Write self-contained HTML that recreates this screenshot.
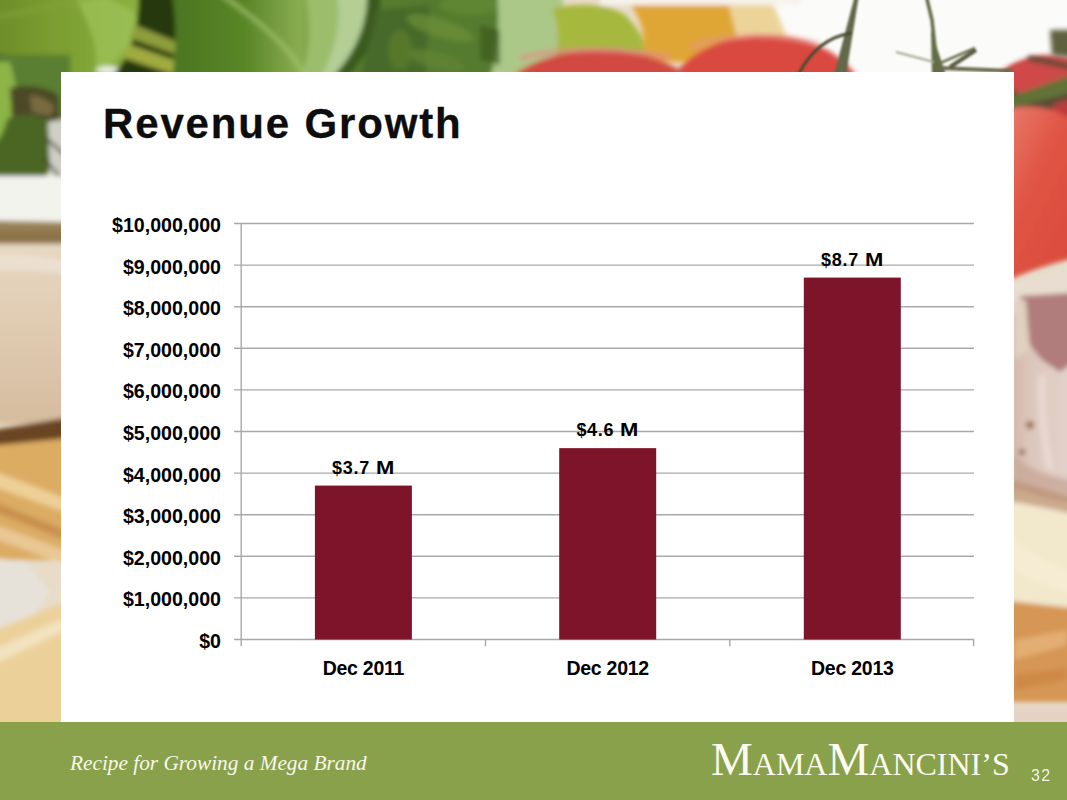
<!DOCTYPE html>
<html><head><meta charset="utf-8">
<style>
html,body{margin:0;padding:0;}
body{width:1067px;height:800px;overflow:hidden;position:relative;background:#f4f0ea;font-family:"Liberation Sans",sans-serif;}
.bg{position:absolute;left:0;top:0;width:1067px;height:800px;overflow:hidden;}
.panel{position:absolute;left:61px;top:72px;width:953px;height:650px;background:#fff;}
.footer{position:absolute;left:0;top:722px;width:1067px;height:78px;background:#8aa14b;}
.title{position:absolute;left:103px;top:99px;font-weight:bold;font-size:42px;letter-spacing:1.85px;-webkit-text-stroke:0.3px #0d0d0d;color:#0d0d0d;white-space:nowrap;line-height:50px;}
.ylab{position:absolute;right:846px;font-weight:bold;font-size:19.6px;color:#000;white-space:nowrap;line-height:20px;}
.dlab{position:absolute;font-weight:bold;font-size:18px;letter-spacing:0.7px;color:#000;white-space:nowrap;line-height:20px;text-align:center;width:120px;}
.dlab .m{display:inline-block;transform:scaleX(1.22);transform-origin:0 0;margin-right:3.3px;}
.xlab{position:absolute;font-weight:bold;font-size:19.5px;letter-spacing:-0.25px;color:#000;white-space:nowrap;line-height:20px;text-align:center;width:140px;}
.tag{position:absolute;left:70px;top:748px;font-family:"Liberation Serif",serif;font-style:italic;font-size:21.3px;color:#f7f7ec;white-space:nowrap;line-height:30px;}
.logo{position:absolute;left:711px;top:735px;font-family:"Liberation Serif",serif;color:#fbfbf0;white-space:nowrap;line-height:48px;}
.logo .b{font-size:47px;}
.logo .s{font-size:32px;}
.pn{position:absolute;left:1031px;top:766px;font-size:16px;letter-spacing:1.3px;color:#f4f4ea;line-height:20px;}
</style></head>
<body>
<div class="bg"><svg width="1067" height="800" viewBox="0 0 1067 800">
<defs>
<filter id="bl" x="-20%" y="-20%" width="140%" height="140%"><feGaussianBlur stdDeviation="5"/></filter>
<filter id="bm" x="-20%" y="-20%" width="140%" height="140%"><feGaussianBlur stdDeviation="2.5"/></filter>
<filter id="bs" x="-20%" y="-20%" width="140%" height="140%"><feGaussianBlur stdDeviation="1.2"/></filter>
<linearGradient id="leaf2" x1="0" y1="0" x2="1" y2="0"><stop offset="0" stop-color="#4a7420"/><stop offset="0.45" stop-color="#5a8628"/><stop offset="0.75" stop-color="#88ac50"/><stop offset="1" stop-color="#6e9838"/></linearGradient>
<linearGradient id="chz" x1="0" y1="0" x2="0" y2="1"><stop offset="0" stop-color="#e6d8c2"/><stop offset="0.5" stop-color="#dfcab0"/><stop offset="1" stop-color="#d6bc9e"/></linearGradient>
<linearGradient id="tom" x1="0" y1="0" x2="1" y2="1"><stop offset="0" stop-color="#e88070"/><stop offset="0.4" stop-color="#e05444"/><stop offset="1" stop-color="#d84838"/></linearGradient>
<linearGradient id="gar" x1="0" y1="0" x2="1" y2="0"><stop offset="0" stop-color="#d0ae9c"/><stop offset="0.3" stop-color="#dcc6bc"/><stop offset="1" stop-color="#e8dcd6"/></linearGradient>
<linearGradient id="brn" x1="0" y1="0" x2="0" y2="1"><stop offset="0" stop-color="#a08c60"/><stop offset="0.6" stop-color="#8a7046"/><stop offset="1" stop-color="#9a8058"/></linearGradient>
<linearGradient id="lf1" x1="0" y1="0" x2="1" y2="0"><stop offset="0" stop-color="#668624"/><stop offset="0.45" stop-color="#7a9c30"/><stop offset="1" stop-color="#8eb242"/></linearGradient>
</defs>
<rect x="0" y="0" width="1067" height="800" fill="#e8dcc8"/>
<g filter="url(#bl)">
<rect x="-30" y="-30" width="560" height="140" fill="#557a2c"/>
<rect x="760" y="-30" width="340" height="120" fill="#fbfbf9"/>
</g>
<g filter="url(#bm)">
<!-- leaf 1 -->
<path d="M-30,-30 L148,-30 C150,20 138,52 112,80 L-30,80 Z" fill="url(#lf1)"/>
<path d="M70,-10 C110,-5 140,10 140,25 C130,50 112,66 95,75 C100,50 90,20 70,-10Z" fill="#9cc056" opacity="0.8"/><ellipse cx="108" cy="70" rx="12" ry="4" fill="#e8eee0"/><path d="M-30,20 C20,15 60,5 100,-5" stroke="#86a43c" stroke-width="5" fill="none" opacity="0.6"/>
<path d="M-30,40 C-10,50 20,60 40,80 L-30,80Z" fill="#5a7a22"/>
<!-- gap dark with stems -->
<path d="M138,-30 L180,-30 L172,80 L108,80 C130,60 142,30 138,-30Z" fill="#26380e"/>
<path d="M135,25 L182,44 L180,56 L130,38 Z" fill="#8e9e3a"/>
<path d="M128,44 L180,62 L178,76 L124,58 Z" fill="#a0aa40"/>
<!-- leaf 2 -->
<path d="M168,-30 L335,-30 C348,20 340,60 325,80 L172,80 C178,40 176,10 168,-30Z" fill="url(#leaf2)"/>
<path d="M215,-10 C250,15 285,40 305,75" stroke="#a8c870" stroke-width="4" fill="none" opacity="0.7"/>
<!-- leaf 3 -->
<path d="M300,-30 L360,-30 C372,20 368,50 355,80 L300,80 C315,40 310,10 300,-30Z" fill="#9cbe6c"/>
<path d="M330,-30 L368,-30 C372,20 360,50 340,80 L320,80 C340,40 345,10 330,-30Z" fill="#b4ce96"/>
<path d="M366,-30 L385,-30 C388,20 370,55 345,80 L330,80 C358,50 372,20 366,-30Z" fill="#3a5a1a"/>
<path d="M380,-30 L505,-30 L505,80 L345,80 C370,55 385,20 380,-30Z" fill="#557c2e"/><path d="M375,10 L430,5 L425,80 L360,80Z" fill="#44662a" opacity="0.8"/>
<ellipse cx="440" cy="28" rx="35" ry="9" transform="rotate(18 440 28)" fill="#6e9038" opacity="0.7"/>
<ellipse cx="435" cy="60" rx="30" ry="8" transform="rotate(15 435 60)" fill="#628432" opacity="0.7"/>
<ellipse cx="470" cy="5" rx="30" ry="10" fill="#628a32" opacity="0.7"/>
<ellipse cx="400" cy="50" rx="12" ry="20" fill="#5a7e2c" opacity="0.7"/>
<!-- pale leaf -->
<path d="M495,-30 L560,-30 C568,30 560,55 545,80 L490,80 C500,40 500,10 495,-30Z" fill="#acc888"/>
<path d="M480,25 L500,30 L500,65 L480,60Z" fill="#3a5a20" opacity="0.7"/>
<!-- yellow-green -->
<path d="M552,8 C580,2 610,4 625,15 C640,30 650,45 640,62 L555,62 C560,40 558,20 552,8Z" fill="#a6b83e"/>
<!-- oil -->
<path d="M630,4 L742,4 L748,62 L640,62 C648,40 642,20 630,4Z" fill="#e0a636"/>
<path d="M728,2 L772,2 L792,48 L742,58 Z" fill="#ecd499"/>
<path d="M600,-30 L800,-30 L800,5 L600,5 Z" fill="#f6f3ec"/>
<!-- tomatoes -->
<ellipse cx="600" cy="112" rx="108" ry="62" fill="#d24842"/>
<path d="M520,58 C560,48 620,46 670,58" stroke="#e38a88" stroke-width="5" fill="none" opacity="0.7"/>
<ellipse cx="765" cy="104" rx="100" ry="69" fill="#d94a40"/>
<path d="M690,48 C730,32 780,33 820,45" stroke="#e7908a" stroke-width="5" fill="none" opacity="0.6"/>
<ellipse cx="1050" cy="100" rx="60" ry="45" fill="#c94c46"/>
</g>
<g filter="url(#bm)">
<!-- left strip -->
<rect x="-30" y="55" width="100" height="70" fill="#5a7e30"/>
<path d="M-30,62 L10,62 C22,100 20,140 8,172 L-30,172 Z" fill="#8cb446"/>
<path d="M10,88 C25,84 45,86 58,95 L60,120 C45,122 25,120 12,116Z" fill="#4c4a26"/>
<path d="M30,95 C40,96 50,100 55,108 L50,116 L32,112Z" fill="#7a6a40"/>
<path d="M8,118 C25,112 45,115 52,125 C56,150 50,175 42,183 C25,190 5,188 -30,178 L-30,150 C2,150 3,130 8,118Z" fill="#4b6620"/>
<path d="M48,122 L70,118 L70,178 L50,176Z" fill="#cfcfc8"/>
<path d="M46,138 L66,156" stroke="#383828" stroke-width="2.5"/>
<path d="M44,158 L64,182" stroke="#383828" stroke-width="2.5"/>
<rect x="-30" y="176" width="100" height="48" fill="#f3f3ee"/>
<path d="M-30,220 L70,222 L70,248 L-30,248Z" fill="url(#brn)"/>
<rect x="-30" y="244" width="100" height="180" fill="url(#chz)"/><path d="M-30,260 C0,250 40,255 70,262 L70,275 C40,270 0,268 -30,272Z" fill="#efe6dc" opacity="0.6"/>
<path d="M-30,434 L70,417 L70,440 L-30,450 Z" fill="#6a4422"/>
<path d="M-30,448 L70,438 L70,560 L-30,560Z" fill="#dcac64"/>
<path d="M-30,462 L70,500 L70,514 L-30,478Z" fill="#f0d49c" opacity="0.9"/>
<path d="M-30,492 L70,532 L70,542 L-30,502Z" fill="#c08444" opacity="0.7"/><path d="M-30,515 L70,552 L70,566 L-30,530Z" fill="#ecd0a0" opacity="0.8"/>
<path d="M-30,555 L25,562 L50,592 L25,628 L-30,640 Z" fill="#e6e2da"/>
<path d="M-30,640 L70,600 L70,735 L-30,735 Z" fill="#ecd09a"/>
<path d="M-30,660 L70,615 L70,628 L-30,676Z" fill="#f4e6c8" opacity="0.8"/>
<!-- right strip -->
<rect x="1000" y="85" width="100" height="30" fill="#5a4a38"/>
<ellipse cx="1045" cy="78" rx="45" ry="18" fill="#cf4a48"/>
<path d="M1005,98 C1030,90 1050,82 1075,74 L1075,92 C1050,98 1030,104 1005,108Z" fill="#627238"/>
<ellipse cx="1070" cy="112" rx="20" ry="12" fill="#b83c3c"/>
<path d="M1028,58 L1075,68" stroke="#4e4a34" stroke-width="5"/>
<path d="M1050,30 L1075,30 L1075,58 L1052,55Z" fill="#5e6040"/>
<path d="M1000,112 C1030,100 1060,108 1090,130 L1090,255 C1060,260 1030,270 1000,284 Z" fill="url(#tom)"/>
<path d="M1000,288 L1090,258 L1090,320 L1000,320 Z" fill="#e8ddd0"/>
<rect x="1000" y="315" width="100" height="175" fill="url(#gar)"/>
<path d="M1020,296 L1090,292 L1090,350 L1060,372 L1042,360 L1030,345 Z" fill="#b07c7c"/>
<path d="M1014,300 L1026,300 L1030,350 L1014,360Z" fill="#e0d0c0"/>
<ellipse cx="1030" cy="425" rx="4" ry="4" fill="#9a6a50"/><path d="M1042,375 C1040,410 1044,440 1050,470" stroke="#efe6e0" stroke-width="8" opacity="0.5" fill="none"/>
<ellipse cx="1022" cy="452" rx="3" ry="3" fill="#8a5a40"/><path d="M1014,455 C1030,470 1050,478 1090,482 L1090,505 C1050,500 1030,495 1014,485Z" fill="#c8a898" opacity="0.8"/>
<path d="M1000,478 C1030,485 1060,492 1090,505 L1090,520 C1060,510 1030,505 1000,500Z" fill="#b88866" opacity="0.6"/>
<path d="M1000,500 C1030,505 1060,510 1090,520 L1090,612 L1000,612Z" fill="#f2e8cc"/>
<path d="M1014,540 C1040,560 1060,570 1090,575 L1090,600 C1060,590 1030,580 1014,570Z" fill="#f6ecd4" opacity="0.8"/>
<path d="M1000,600 L1090,610 L1090,702 L1000,702Z" fill="#d69654"/>
<path d="M1014,640 L1067,630 L1067,645 L1014,660Z" fill="#e6b47a" opacity="0.8"/><path d="M1014,675 L1067,668 L1067,680 L1014,690Z" fill="#c88040" opacity="0.6"/>
<rect x="1000" y="708" width="100" height="30" fill="#e6d2c4"/>
</g>
<g filter="url(#bs)">
<path d="M855,-5 L859,-5 L846,75 L834,75Z" fill="#62684a"/>
<path d="M798,75 C812,48 830,36 852,33" stroke="#4a4a30" stroke-width="3" fill="none"/>
<path d="M926,-5 L932,20 L938,75" stroke="#626c44" stroke-width="3.5" fill="none"/>
<path d="M931,30 L946,75 L932,75Z" fill="#626c44"/>
<path d="M896,52 L934,62" stroke="#a0a890" stroke-width="2" fill="none"/>
<path d="M938,64 L975,48" stroke="#6a7050" stroke-width="2.5" fill="none"/>
<path d="M940,68 L1012,71" stroke="#6a6a50" stroke-width="4" fill="none"/><path d="M950,67 L976,50" stroke="#5a5a40" stroke-width="4" fill="none"/>

</g>
</svg></div>
<div class="panel"></div>
<div class="title">Revenue Growth</div>

<!--CHART-->
<svg class="chart" width="1067" height="800" viewBox="0 0 1067 800" style="position:absolute;left:0;top:0">
<line x1="234" y1="639.50" x2="974" y2="639.50" stroke="#a9a9a9" stroke-width="1.4"/>
<line x1="234" y1="597.90" x2="974" y2="597.90" stroke="#a9a9a9" stroke-width="1.4"/>
<line x1="234" y1="556.30" x2="974" y2="556.30" stroke="#a9a9a9" stroke-width="1.4"/>
<line x1="234" y1="514.70" x2="974" y2="514.70" stroke="#a9a9a9" stroke-width="1.4"/>
<line x1="234" y1="473.10" x2="974" y2="473.10" stroke="#a9a9a9" stroke-width="1.4"/>
<line x1="234" y1="431.50" x2="974" y2="431.50" stroke="#a9a9a9" stroke-width="1.4"/>
<line x1="234" y1="389.90" x2="974" y2="389.90" stroke="#a9a9a9" stroke-width="1.4"/>
<line x1="234" y1="348.30" x2="974" y2="348.30" stroke="#a9a9a9" stroke-width="1.4"/>
<line x1="234" y1="306.70" x2="974" y2="306.70" stroke="#a9a9a9" stroke-width="1.4"/>
<line x1="234" y1="265.10" x2="974" y2="265.10" stroke="#a9a9a9" stroke-width="1.4"/>
<line x1="234" y1="223.50" x2="974" y2="223.50" stroke="#a9a9a9" stroke-width="1.4"/>
<line x1="241.2" y1="223" x2="241.2" y2="646.2" stroke="#a9a9a9" stroke-width="1.4"/>
<line x1="485.5" y1="639" x2="485.5" y2="646.2" stroke="#a9a9a9" stroke-width="1.4"/>
<line x1="729.8" y1="639" x2="729.8" y2="646.2" stroke="#a9a9a9" stroke-width="1.4"/>
<line x1="973.6" y1="639" x2="973.6" y2="646.2" stroke="#a9a9a9" stroke-width="1.4"/>
<rect x="314.90" y="485.58" width="97" height="153.92" fill="#7e1429"/>
<rect x="559.20" y="448.14" width="97" height="191.36" fill="#7e1429"/>
<rect x="803.80" y="277.58" width="97" height="361.92" fill="#7e1429"/>
</svg>
<div class="ylab" style="top:631.00px">$0</div>
<div class="ylab" style="top:589.40px">$1,000,000</div>
<div class="ylab" style="top:547.80px">$2,000,000</div>
<div class="ylab" style="top:506.20px">$3,000,000</div>
<div class="ylab" style="top:464.60px">$4,000,000</div>
<div class="ylab" style="top:423.00px">$5,000,000</div>
<div class="ylab" style="top:381.40px">$6,000,000</div>
<div class="ylab" style="top:339.80px">$7,000,000</div>
<div class="ylab" style="top:298.20px">$8,000,000</div>
<div class="ylab" style="top:256.60px">$9,000,000</div>
<div class="ylab" style="top:215.00px">$10,000,000</div>
<div class="dlab" style="left:303.40px;top:457.58px">$3.7 <span class="m">M</span></div>
<div class="dlab" style="left:547.70px;top:420.14px">$4.6 <span class="m">M</span></div>
<div class="dlab" style="left:792.30px;top:249.58px">$8.7 <span class="m">M</span></div>
<div class="xlab" style="left:293.40px;top:658.2px">Dec 2011</div>
<div class="xlab" style="left:537.70px;top:658.2px">Dec 2012</div>
<div class="xlab" style="left:782.30px;top:658.2px">Dec 2013</div>
<!--/CHART-->
<div class="footer"></div>
<div class="tag">Recipe for Growing a Mega Brand</div>
<div class="logo"><span class="b">M</span><span class="s">AMA</span><span class="b">M</span><span class="s">ANCINI’S</span></div>
<div class="pn">32</div>
</body></html>
